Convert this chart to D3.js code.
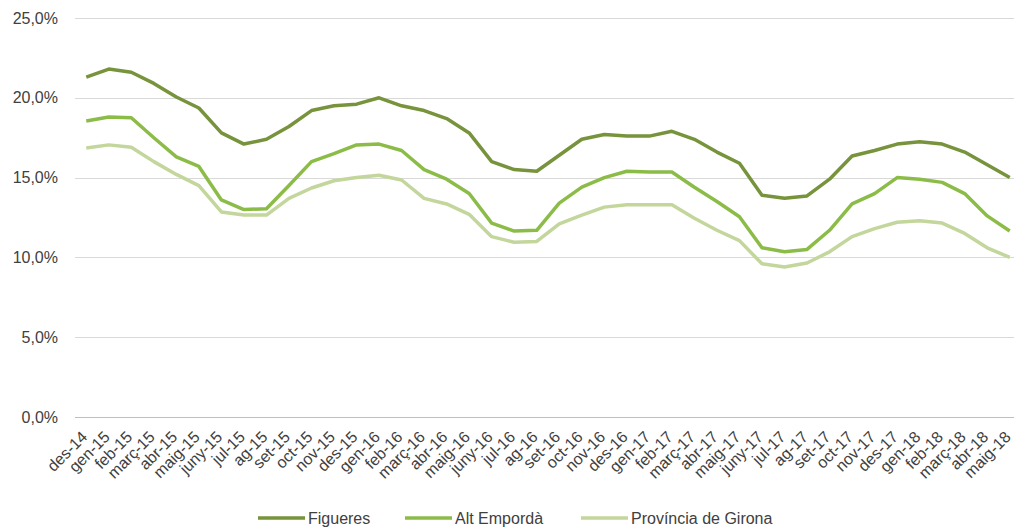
<!DOCTYPE html>
<html>
<head>
<meta charset="utf-8">
<script src="https://cdn.jsdelivr.net/npm/d3@7"></script>
<style>
  body { margin: 0; background: #fff; }
  svg { font-family: "Liberation Sans", Arial, sans-serif; }
  .grid line { stroke: #d9d9d9; stroke-width: 1; }
  .ytick { font-size: 16px; fill: #404040; }
  .xtick { font-size: 16px; fill: #404040; }
  .legend text { font-size: 16px; fill: #404040; }
</style>
</head>
<body>
<div id="chart"></div>
<script>
var months = ["des-14","gen-15","feb-15","març-15","abr-15","maig-15","juny-15","jul-15","ag-15","set-15","oct-15","nov-15",
              "des-15","gen-16","feb-16","març-16","abr-16","maig-16","juny-16","jul-16","ag-16","set-16","oct-16","nov-16",
              "des-16","gen-17","feb-17","març-17","abr-17","maig-17","juny-17","jul-17","ag-17","set-17","oct-17","nov-17",
              "des-17","gen-18","feb-18","març-18","abr-18","maig-18"];

var figueres = [21.3,21.8,21.6,20.9,20.05,19.36,17.8,17.1,17.4,18.2,19.2,19.5,
                19.6,20.0,19.5,19.2,18.7,17.8,16.0,15.5,15.4,16.4,17.4,17.7,
                17.6,17.6,17.9,17.4,16.6,15.9,13.9,13.7,13.85,14.9,16.35,16.7,
                17.1,17.25,17.1,16.6,15.8,15.0];

var altEmporda = [18.55,18.8,18.75,17.5,16.3,15.7,13.6,13.0,13.05,14.5,16.0,16.5,
                  17.05,17.1,16.7,15.5,14.9,14.0,12.15,11.65,11.7,13.4,14.4,15.0,
                  15.4,15.35,15.35,14.4,13.5,12.55,10.6,10.35,10.5,11.7,13.35,14.0,
                  15.0,14.9,14.7,14.0,12.6,11.65];

var provincia = [16.85,17.05,16.9,16.0,15.2,14.5,12.85,12.65,12.65,13.7,14.35,14.8,
                 15.0,15.15,14.85,13.7,13.35,12.7,11.3,10.95,11.0,12.1,12.65,13.15,
                 13.3,13.3,13.3,12.45,11.7,11.05,9.6,9.4,9.65,10.35,11.3,11.8,
                 12.2,12.3,12.15,11.5,10.6,10.0];

var yTicks = [0, 5, 10, 15, 20, 25];

var series = [
    { name: "Figueres", values: figueres, color: "#77933c" },
    { name: "Alt Empordà", values: altEmporda, color: "#8cbc48" },
    { name: "Província de Girona", values: provincia, color: "#c3d69b" }
];

var W = 1014, H = 529;
var plotLeft = 75, plotRight = 1021, plotTop = 18, plotBottom = 417;

var svg = d3.select("#chart").append("svg")
    .attr("width", W)
    .attr("height", H);

var x = d3.scalePoint().domain(months).range([plotLeft, plotRight]).padding(0.5);
var y = d3.scaleLinear().domain([0, 25]).range([plotBottom, plotTop]);

var fmt = function(v) { return v.toFixed(1).replace(".", ",") + "%"; };

// gridlines
svg.append("g").attr("class", "grid")
    .selectAll("line").data(yTicks).enter().append("line")
    .attr("x1", plotLeft).attr("x2", plotRight)
    .attr("y1", function(d){ return Math.round(y(d)) + 0.5; })
    .attr("y2", function(d){ return Math.round(y(d)) + 0.5; })
    .style("stroke", function(d){ return d === 0 ? "#bfbfbf" : null; });

// y tick labels
svg.append("g").selectAll("text").data(yTicks).enter().append("text")
    .attr("class", "ytick")
    .attr("x", 58)
    .attr("y", function(d){ return y(d); })
    .attr("dy", "0.35em")
    .attr("text-anchor", "end")
    .text(fmt);

// x tick labels, rotated
svg.append("g").selectAll("text").data(months).enter().append("text")
    .attr("class", "xtick")
    .attr("text-anchor", "end")
    .attr("transform", function(d){ return "translate(" + (x(d) + 2) + "," + (plotBottom + 21) + ") rotate(-45)"; })
    .text(function(d){ return d; });

// lines
var line = d3.line()
    .x(function(d, i){ return x(months[i]); })
    .y(function(d){ return y(d); });

svg.append("g").selectAll("path").data(series.slice().reverse()).enter().append("path")
    .attr("fill", "none")
    .attr("stroke", function(d){ return d.color; })
    .attr("stroke-width", 3.5)
    .attr("stroke-linejoin", "round")
    .attr("d", function(d){ return line(d.values); });

// legend
var legendX = [258, 405, 581];
var legend = svg.append("g").attr("class", "legend")
    .selectAll("g").data(series).enter().append("g")
    .attr("transform", function(d, i){ return "translate(" + legendX[i] + ",518)"; });
legend.append("line")
    .attr("x1", 0).attr("x2", 47)
    .attr("stroke", function(d){ return d.color; })
    .attr("stroke-width", 3.5);
legend.append("text")
    .attr("x", 50)
    .attr("dy", "0.35em")
    .text(function(d){ return d.name; });
</script>
</body>
</html>
